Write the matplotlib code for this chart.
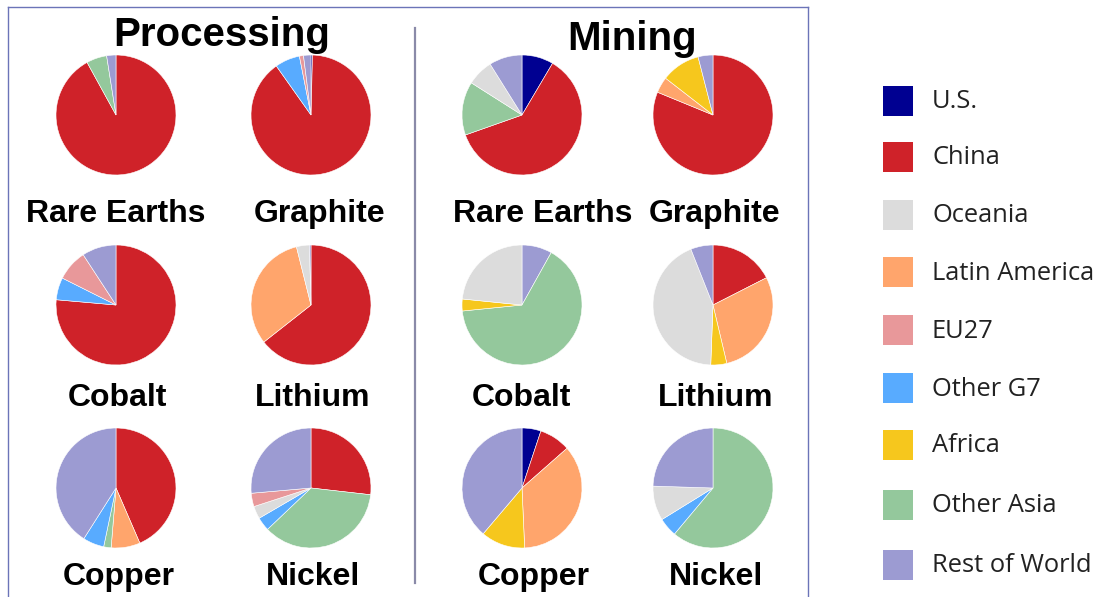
import matplotlib
matplotlib.use("Agg")
import matplotlib.pyplot as plt
from matplotlib.lines import Line2D
from matplotlib.patches import Rectangle

# ---------------- data ----------------
legend_regions = ["U.S.", "China", "Oceania", "Latin America", "EU27",
                  "Other G7", "Africa", "Other Asia", "Rest of World"]
region_colors = ["#000091", "#CF2229", "#DCDCDC", "#FFA56C", "#E8989A",
                 "#58ABFF", "#F6C71D", "#94C89C", "#9C9BD2"]

pie_titles = ["Rare Earths", "Graphite", "Cobalt", "Lithium", "Copper", "Nickel"]

# Processing shares (%), clockwise from 12 o'clock
proc_rare_earths_regions = ["China", "Other Asia", "Rest of World"]
proc_rare_earths_values = [92.0, 5.5, 2.5]
proc_graphite_regions = ["U.S.", "China", "Other G7", "EU27", "Rest of World"]
proc_graphite_values = [0.4, 89.8, 6.7, 1.1, 2.0]
proc_cobalt_regions = ["China", "Other G7", "EU27", "Rest of World"]
proc_cobalt_values = [76.4, 6.0, 8.4, 9.2]
proc_lithium_regions = ["China", "Latin America", "Oceania", "Rest of World"]
proc_lithium_values = [64.4, 31.7, 3.5, 0.4]
proc_copper_regions = ["China", "Latin America", "Other Asia", "Other G7", "Rest of World"]
proc_copper_values = [43.5, 7.8, 2.0, 5.7, 41.0]
proc_nickel_regions = ["China", "Other Asia", "Other G7", "Oceania", "EU27", "Rest of World"]
proc_nickel_values = [26.8, 36.1, 3.7, 3.4, 3.6, 26.4]

# Mining shares (%), clockwise from 12 o'clock
mine_rare_earths_regions = ["U.S.", "China", "Other Asia", "Oceania", "Rest of World"]
mine_rare_earths_values = [8.5, 61.1, 14.4, 7.1, 8.9]
mine_graphite_regions = ["China", "Latin America", "Africa", "Rest of World"]
mine_graphite_values = [81.2, 4.3, 10.5, 4.0]
mine_cobalt_regions = ["Rest of World", "Other Asia", "Africa", "Oceania"]
mine_cobalt_values = [8.1, 65.3, 3.2, 23.4]
mine_lithium_regions = ["China", "Latin America", "Africa", "Oceania", "Rest of World"]
mine_lithium_values = [17.5, 28.8, 4.3, 43.4, 6.0]
mine_copper_regions = ["U.S.", "China", "Latin America", "Africa", "Rest of World"]
mine_copper_values = [5.1, 8.4, 35.8, 11.9, 38.8]
mine_nickel_regions = ["Other Asia", "Other G7", "Oceania", "Rest of World"]
mine_nickel_values = [61.1, 5.1, 9.3, 24.5]

processing = [(proc_rare_earths_regions, proc_rare_earths_values),
              (proc_graphite_regions, proc_graphite_values),
              (proc_cobalt_regions, proc_cobalt_values),
              (proc_lithium_regions, proc_lithium_values),
              (proc_copper_regions, proc_copper_values),
              (proc_nickel_regions, proc_nickel_values)]
mining = [(mine_rare_earths_regions, mine_rare_earths_values),
          (mine_graphite_regions, mine_graphite_values),
          (mine_cobalt_regions, mine_cobalt_values),
          (mine_lithium_regions, mine_lithium_values),
          (mine_copper_regions, mine_copper_values),
          (mine_nickel_regions, mine_nickel_values)]

color_map = dict(zip(legend_regions, region_colors))

# ---------------- layout ----------------
W, H = 1099, 597
fig = plt.figure(figsize=(W / 100, H / 100), dpi=100)
fig.patch.set_facecolor("white")


def fx(x):
    return x / W


def fy(y):
    return 1 - y / H


BOLD = ["Liberation Sans", "DejaVu Sans"]


def draw_pie(cx, cy, r, regs, vals):
    ax = fig.add_axes([fx(cx - r), fy(cy + r), 2 * r / W, 2 * r / H])
    ax.pie(vals, colors=[color_map[g] for g in regs], startangle=90,
           counterclock=False, radius=1,
           wedgeprops=dict(linewidth=0.4, edgecolor="white"))
    ax.set_xlim(-1.0, 1.0)
    ax.set_ylim(-1.0, 1.0)
    ax.set_aspect("equal")
    ax.axis("off")


pie_r = 60
row_cy = [115, 305, 488]
proc_cx = [116, 311]
mine_cx = [522, 713]
label_baseline = [222, 406, 585]
proc_label_x = [[116, 320], [117, 313], [119, 313]]
mine_label_x = [[543, 715], [521, 716], [534, 716]]

for i, (regs, vals) in enumerate(processing):
    row, col = divmod(i, 2)
    draw_pie(proc_cx[col], row_cy[row], pie_r, regs, vals)
    fig.text(fx(proc_label_x[row][col]), fy(label_baseline[row]), pie_titles[i],
             ha="center", va="baseline", fontsize=23, fontweight="bold",
             family=BOLD, color="black")

for i, (regs, vals) in enumerate(mining):
    row, col = divmod(i, 2)
    draw_pie(mine_cx[col], row_cy[row], pie_r, regs, vals)
    fig.text(fx(mine_label_x[row][col]), fy(label_baseline[row]), pie_titles[i],
             ha="center", va="baseline", fontsize=23, fontweight="bold",
             family=BOLD, color="black")

# titles
fig.text(fx(222), fy(46), "Processing", ha="center", va="baseline",
         fontsize=29, fontweight="bold", family=BOLD, color="black")
fig.text(fx(632), fy(50), "Mining", ha="center", va="baseline",
         fontsize=29, fontweight="bold", family=BOLD, color="black")

# frame & divider
frame_c = "#6B74B8"
for (x0, y0, x1, y1) in [(8, 7, 808, 7), (8, 7, 8, 600), (808, 7, 808, 600)]:
    fig.add_artist(Line2D([fx(x0), fx(x1)], [fy(y0), fy(y1)], color=frame_c, lw=1.0))
fig.add_artist(Line2D([fx(415), fx(415)], [fy(28), fy(583)], color="#8A8AA8", lw=1.6))

# legend
leg_y = [102, 158, 216, 273, 331, 389, 446, 506, 566]
for name, c, y in zip(legend_regions, region_colors, leg_y):
    fig.add_artist(Rectangle((fx(883), fy(y + 14)), 30 / W, 30 / H,
                             facecolor=c, edgecolor="none"))
    fig.text(fx(932), fy(y), name, ha="left", va="center", fontsize=18.4,
             family=["Open Sans", "DejaVu Sans"], color="#222222")

fig.savefig("out.png", dpi=100)
